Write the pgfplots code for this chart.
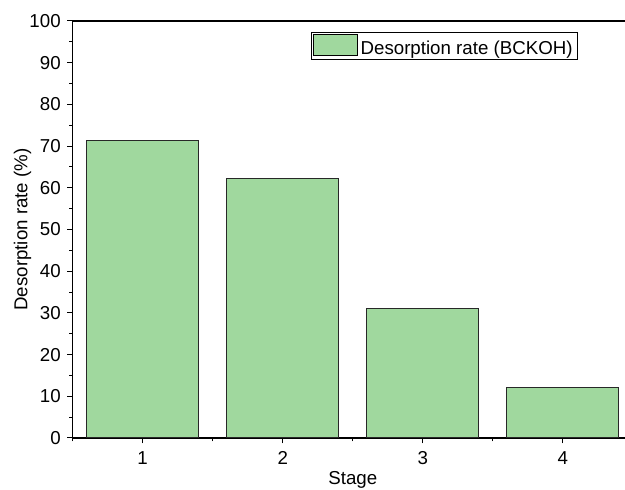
\documentclass[border=0pt]{standalone}
\usepackage{pgfplots}
\pgfplotsset{compat=1.18}
\usepackage{fontspec}
\setmainfont{Liberation Sans}
\definecolor{barfill}{RGB}{160,216,158}
\definecolor{baredge}{RGB}{40,40,40}
\begin{document}
\fontsize{18.7}{22}\selectfont
\begin{tikzpicture}
\path[use as bounding box] (-72.6pt,-52pt) rectangle (552.4pt,438pt);
\begin{axis}[
  scale only axis, width=560.4pt, height=417pt,
  xmin=0.5, xmax=4.5, ymin=0, ymax=100,
  xtick={1,2,3,4}, minor xtick={0.5,1.5,2.5,3.5,4.5},
  ytick={0,10,...,100}, minor ytick={5,15,...,95},
  tick align=outside, xtick pos=bottom, ytick pos=left,
  major tick length=5.5pt, minor tick length=3.5pt,
  every tick/.style={black, line width=1pt},
  axis line style={line width=1.2pt, black},
  /pgf/number format/assume math mode=true,
  ticklabel style={font=\fontsize{18.7}{22}\selectfont},
  xticklabel style={yshift=-2pt},
  label style={font=\fontsize{18.7}{22}\selectfont},
  xlabel={Stage}, ylabel={Desorption rate (\%)},
  every axis x label/.style={at={([yshift=-42pt]axis description cs:0.5,0)}, anchor=center},
  every axis y label/.style={at={([xshift=-50pt]axis description cs:0,0.5)}, anchor=center, rotate=90},
  ybar, bar width=0.8,
  legend style={at={(rel axis cs:0.901,0.973)}, anchor=north east, draw=black, line width=0.8pt,
    font=\fontsize{18.7}{22}\selectfont, inner xsep=1.5pt, inner ysep=1pt,
    nodes={inner xsep=3pt, inner ysep=1.5pt}},
  legend cell align=left,
  legend image code/.code={\draw[fill=barfill, draw=black, line width=0.8pt] (-0.1em,-0.33em) rectangle (2.25em,0.8em);},
]
\addplot[fill=barfill, draw=baredge, line width=1pt] coordinates {(1,71.4) (2,62.3) (3,31.1) (4,12.0)};
\addlegendentry{Desorption rate (BCKOH)}
\end{axis}
\end{tikzpicture}
\end{document}
